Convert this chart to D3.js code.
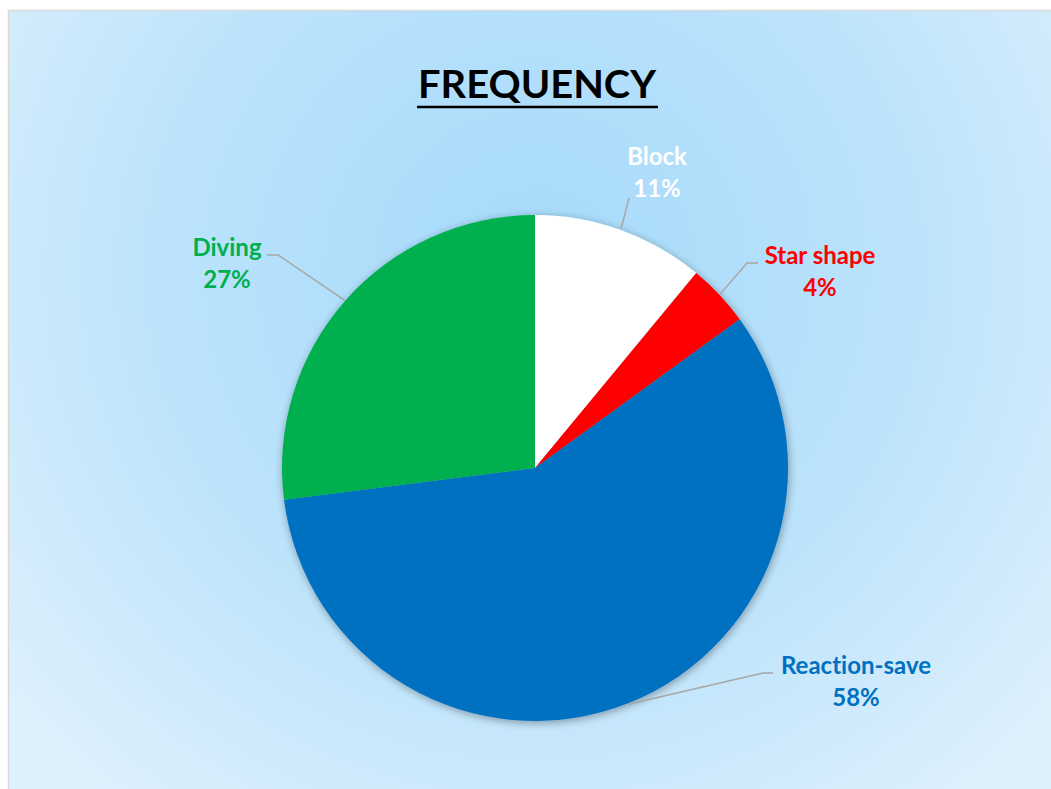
<!DOCTYPE html>
<html>
<head>
<meta charset="utf-8">
<script src="https://cdn.jsdelivr.net/npm/d3@7"></script>
<style>
  html, body { margin: 0; padding: 0; background: #ffffff; }
  svg { display: block; font-family: Lato, "Open Sans", sans-serif; font-variant-ligatures: none; }
</style>
</head>
<body>
<svg id="chart" width="1051" height="789"></svg>
<script>
// Data
const categories = ["Block", "Star shape", "Reaction-save", "Diving"];
const shares = [11, 4, 58, 27];
const sliceColors = ["#ffffff", "#ff0000", "#0070c0", "#00b050"];
const labelColors = ["#ffffff", "#ff0000", "#0070c0", "#00b050"];

// Layout: label anchors and leader elbows, offsets from the pie centre
const labelLayout = [
    { dx: 122, dy: -303, elbow: [[94, -270]] },
    { dx: 285, dy: -204, elbow: [[223, -205], [212, -205]] },
    { dx: 321, dy: 206, elbow: [[238, 205], [228, 205]] },
    { dx: -308, dy: -212, elbow: [[-268, -213], [-257, -213]] }
];

const Width = 1051, Height = 789;
const Center = [535, 468];
const Radius = 253;

const svg = d3.select("#chart");
const defs = svg.append("defs");

// Background gradient
const grad = defs.append("radialGradient").attr("id", "bg")
    .attr("gradientUnits", "userSpaceOnUse")
    .attr("cx", 535).attr("cy", 270).attr("r", 680);
grad.append("stop").attr("offset", "0%").attr("stop-color", "#a5dafb");
grad.append("stop").attr("offset", "55%").attr("stop-color", "#bce3fb");
grad.append("stop").attr("offset", "100%").attr("stop-color", "#def0fc");

// Soft shadow for the pie
const shadow = defs.append("filter").attr("id", "shadow")
    .attr("x", "-10%").attr("y", "-10%").attr("width", "120%").attr("height", "120%");
shadow.append("feGaussianBlur").attr("in", "SourceAlpha").attr("stdDeviation", 4).attr("result", "blur");
shadow.append("feOffset").attr("in", "blur").attr("dx", 1).attr("dy", 2).attr("result", "off");
shadow.append("feComponentTransfer").attr("in", "off").attr("result", "soft")
    .append("feFuncA").attr("type", "linear").attr("slope", 0.35);
const merge = shadow.append("feMerge");
merge.append("feMergeNode").attr("in", "soft");
merge.append("feMergeNode").attr("in", "SourceGraphic");

// Chart area with a thin grey frame
svg.append("rect")
    .attr("x", 8.5).attr("y", 10.5)
    .attr("width", Width).attr("height", Height)
    .attr("fill", "url(#bg)")
    .attr("stroke", "#d9d9d9").attr("stroke-width", 1.5);

// Title
svg.append("text")
    .attr("x", 537).attr("y", 98)
    .attr("text-anchor", "middle")
    .attr("font-size", 39).attr("font-weight", "bold")
    .attr("fill", "#000000")
    .attr("textLength", 238).attr("lengthAdjust", "spacingAndGlyphs")
    .text("FREQUENCY");
svg.append("line")
    .attr("x1", 417).attr("x2", 658)
    .attr("y1", 107).attr("y2", 107)
    .attr("stroke", "#000000").attr("stroke-width", 2.5);

// Pie
const pie = d3.pie().sort(null).value((d) => d)(shares);
const arc = d3.arc().innerRadius(0).outerRadius(Radius);
const Plot = svg.append("g").attr("transform", `translate(${Center[0]},${Center[1]})`);

Plot.append("g").attr("filter", "url(#shadow)")
    .selectAll("path").data(pie).join("path")
    .attr("d", arc)
    .attr("fill", (d, i) => sliceColors[i]);

// Leader lines from the slice mid-angle on the rim to the labels
const Leaders = Plot.append("g");
pie.forEach((Slice, i) => {
    const Mid = (Slice.startAngle + Slice.endAngle) / 2;
    const Rim = [Math.sin(Mid) * (Radius + 1), -Math.cos(Mid) * (Radius + 1)];
    const Points = labelLayout[i].elbow.concat([Rim]);
    Leaders.append("path")
        .attr("d", d3.line()(Points))
        .attr("fill", "none")
        .attr("stroke", "#a6a6a6")
        .attr("stroke-width", 1.5);
});

// Labels
const Labels = Plot.append("g")
    .attr("font-size", 24).attr("font-weight", "bold")
    .attr("text-anchor", "middle");
pie.forEach((Slice, i) => {
    const L = labelLayout[i];
    const Text = Labels.append("text")
        .attr("x", L.dx).attr("y", L.dy)
        .attr("fill", labelColors[i]);
    Text.append("tspan").attr("x", L.dx).attr("dy", 0).text(categories[i]);
    Text.append("tspan").attr("x", L.dx).attr("dy", 32).text(d3.format(".0%")(shares[i] / 100));
});
</script>
</body>
</html>
